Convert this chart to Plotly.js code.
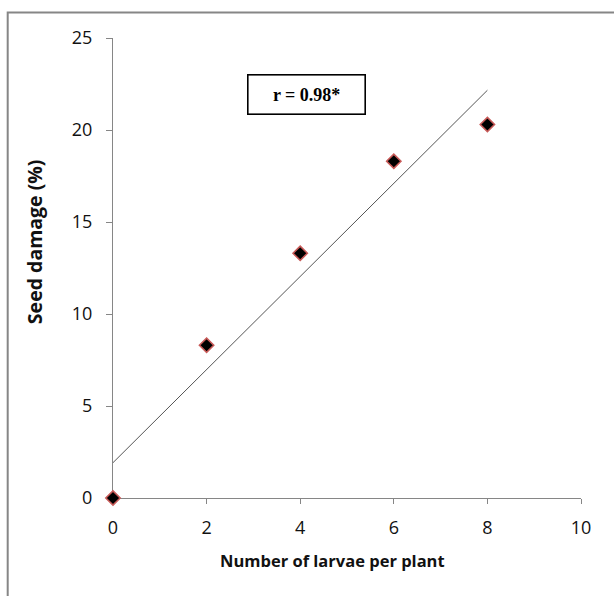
<!DOCTYPE html>
<html>
<head>
<meta charset="utf-8">
<script src="https://cdn.plot.ly/plotly-3.0.1.min.js"></script>
<style>html,body{margin:0;padding:0;background:#fff;}#chart{width:614px;height:596px;}</style>
</head>
<body>
<div id="chart"></div>
<script>
// Data
const larvae = [0, 2, 4, 6, 8];
const seedDamage = [0, 8.3, 13.3, 18.3, 20.3];
const xTicks = [0, 2, 4, 6, 8, 10];
const yTicks = [0, 5, 10, 15, 20, 25];
const rLabel = 'r = 0.98*';
const xTitle = 'Number of larvae per plant';
const yTitle = 'Seed damage (%)';

// Linear trend line (least squares) from the data
const n = larvae.length;
const mx = larvae.reduce((a, b) => a + b, 0) / n;
const my = seedDamage.reduce((a, b) => a + b, 0) / n;
let sxy = 0, sxx = 0;
for (let i = 0; i < n; i++) { sxy += (larvae[i] - mx) * (seedDamage[i] - my); sxx += (larvae[i] - mx) ** 2; }
const slope = sxy / sxx, intercept = my - slope * mx;
const trendX = [larvae[0], larvae[n - 1]];
const trendY = trendX.map(x => intercept + slope * x);

const axisColor = '#868686';
const font = 'Open Sans, Noto Sans, sans-serif';

const traces = [
  { x: trendX, y: trendY, mode: 'lines', line: { color: '#555555', width: 1 }, hoverinfo: 'skip', showlegend: false },
  { x: larvae, y: seedDamage, mode: 'markers', cliponaxis: false,
    marker: { symbol: 'diamond', size: 11, color: '#000000', line: { color: '#c85a58', width: 1.6 } }, showlegend: false }
];

const layout = {
  width: 614, height: 596,
  margin: { l: 113, r: 33, t: 38, b: 97.5 },
  paper_bgcolor: '#ffffff', plot_bgcolor: '#ffffff',
  font: { family: font, color: '#000' },
  xaxis: {
    range: [0, 10], tickvals: xTicks, ticktext: xTicks.map(String), layer: 'below traces',
    showgrid: false, zeroline: false, showline: true, linecolor: axisColor, linewidth: 1,
    ticks: 'outside', ticklen: 5, tickcolor: axisColor, tickfont: { size: 18, family: font, color: '#111' },
    ticklabelstandoff: 8
  },
  yaxis: {
    range: [0, 25], tickvals: yTicks, ticktext: yTicks.map(String), layer: 'below traces',
    showgrid: false, zeroline: false, showline: true, linecolor: axisColor, linewidth: 1,
    ticks: 'outside', ticklen: 6, tickcolor: axisColor, tickfont: { size: 18, family: font, color: '#111' },
    ticklabelstandoff: 10
  },
  annotations: [
    {
      x: 4.14, y: 21.92, xref: 'x', yref: 'y', text: '<b>' + rLabel + '</b>', showarrow: false,
      font: { family: 'Liberation Serif, Times New Roman, serif', size: 18, color: '#000' },
      bordercolor: '#000', borderwidth: 1.6, borderpad: 3, width: 110, height: 32, bgcolor: '#ffffff'
    },
    {
      x: 0.4687, y: -0.1356, xref: 'paper', yref: 'paper', xanchor: 'center', yanchor: 'middle',
      text: '<b>' + xTitle + '</b>', showarrow: false, font: { size: 16.5, family: font, color: '#111' }
    },
    {
      x: -0.1663, y: 0.5566, xref: 'paper', yref: 'paper', xanchor: 'center', yanchor: 'middle',
      textangle: -90, text: '<b>' + yTitle + '</b>', showarrow: false, font: { size: 19.5, family: font, color: '#111' }
    }
  ],
  shapes: [{
    type: 'rect', xref: 'paper', yref: 'paper', x0: -0.225, x1: 2, y0: -1, y1: 1.0557,
    line: { color: axisColor, width: 2 }, fillcolor: 'rgba(0,0,0,0)', layer: 'below'
  }]
};

Plotly.newPlot('chart', traces, layout, { displayModeBar: false, staticPlot: true });
</script>
</body>
</html>
